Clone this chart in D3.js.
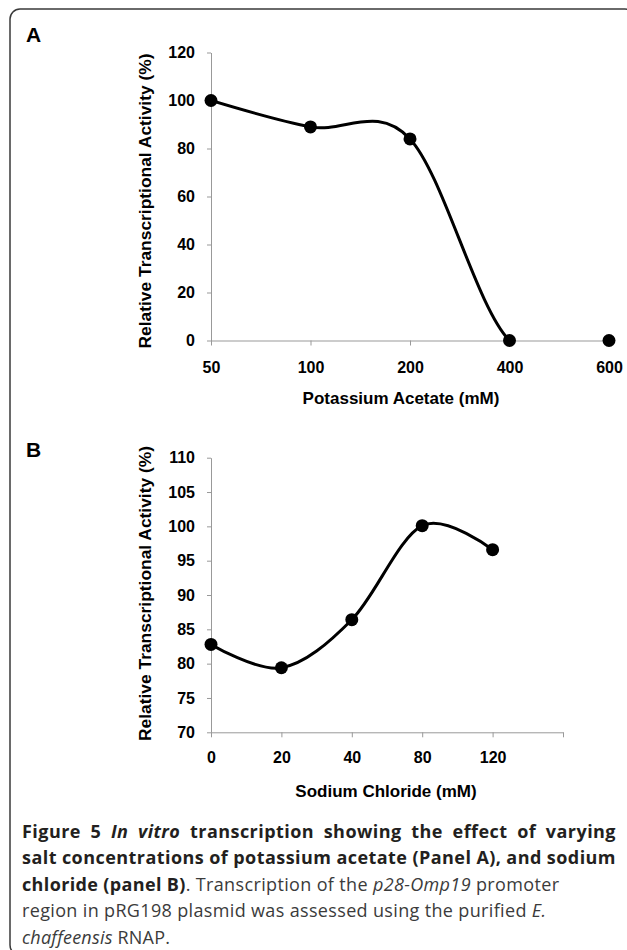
<!DOCTYPE html>
<html lang="en">
<head>
  <meta charset="UTF-8">
  <title>Figure 5 - salt concentration</title>
  <script src="https://cdn.jsdelivr.net/npm/d3@7"></script>
</head>
<body style="margin:0; background-color:#fff;">
<script>
  // panel A: potassium acetate
  const acetateConc = ["50", "100", "200", "400", "600"];
  const acetateActivity = [100, 89, 84, 0, 0];
  const acetateTicks = [0, 20, 40, 60, 80, 100, 120];

  // panel B: sodium chloride
  const chlorideConc = ["0", "20", "40", "80", "120"];
  const chlorideActivity = [82.8, 79.4, 86.4, 100.1, 96.6];
  const chlorideTicks = [70, 75, 80, 85, 90, 95, 100, 105, 110];

  const width = 627;
  const height = 950;
  const axisFont = "'Liberation Sans', Arial, sans-serif";
  const captionFont = "'Open Sans', sans-serif";

  const svg = d3.select("body")
          .append("svg")
          .attr("width", width)
          .attr("height", height)
          .style("display", "block");

  // rounded frame round the whole figure
  svg.append("rect")
          .attr("x", 10)
          .attr("y", 9)
          .attr("width", 625)
          .attr("height", 946)
          .attr("rx", 10)
          .attr("fill", "none")
          .attr("stroke", "#3a3a3a")
          .attr("stroke-width", 1.5);

  const drawPanel = (opts) => {
    const {id, letter, letterY, cats, values, ticks, xRange, yRange, yDomain, xTitle, xTitleX, xTitleY, yTitleY, padX} = opts;
    const x = d3.scalePoint().domain(cats).range(xRange);
    const y = d3.scaleLinear().domain(yDomain).range(yRange);

    // the smoothed line is clipped to the plot area, like the spreadsheet does
    svg.append("clipPath")
            .attr("id", `clip-${id}`)
            .append("rect")
            .attr("x", xRange[0])
            .attr("y", yRange[1])
            .attr("width", xRange[1] - xRange[0] + 10)
            .attr("height", yRange[0] - yRange[1]);

    svg.append("text")
            .attr("x", 26)
            .attr("y", letterY)
            .style("font-family", axisFont)
            .style("font-weight", "bold")
            .style("font-size", "21px")
            .text(letter);

    const xAxis = svg.append("g")
            .attr("transform", `translate(0, ${yRange[0]})`)
            .call(d3.axisBottom(x).tickSize(5).tickSizeOuter(0).tickPadding(padX)
                    .tickFormat(d => d === "end" ? "" : d));

    const yAxis = svg.append("g")
            .attr("transform", `translate(${xRange[0]}, 0)`)
            .call(d3.axisLeft(y).tickValues(ticks).tickSize(4).tickSizeOuter(0).tickPadding(12));

    [xAxis, yAxis].forEach(g => {
      g.select(".domain").attr("stroke", "#999");
      g.selectAll(".tick line").attr("stroke", "#999");
      g.selectAll(".tick text")
              .attr("fill", "#000")
              .style("font-family", axisFont)
              .style("font-weight", "bold")
              .style("font-size", "16px");
    });

    svg.append("text")
            .attr("x", xTitleX)
            .attr("y", xTitleY)
            .attr("text-anchor", "middle")
            .style("font-family", axisFont)
            .style("font-weight", "bold")
            .style("font-size", "17px")
            .text(xTitle);

    svg.append("text")
            .attr("transform", `translate(151, ${yTitleY}) rotate(-90)`)
            .attr("text-anchor", "middle")
            .style("font-family", axisFont)
            .style("font-weight", "bold")
            .style("font-size", "17.4px")
            .text("Relative Transcriptional Activity (%)");

    const pts = values.map((v, i) => [x(cats[i]), y(v)]);

    svg.append("path")
            .datum(pts)
            .attr("clip-path", `url(#clip-${id})`)
            .attr("fill", "none")
            .attr("stroke", "#000")
            .attr("stroke-width", 3)
            .attr("d", d3.line().curve(d3.curveCardinal.tension(0)));

    svg.append("g")
            .selectAll("circle")
            .data(pts)
            .enter()
            .append("circle")
            .attr("cx", d => d[0])
            .attr("cy", d => d[1])
            .attr("r", 6.5)
            .attr("fill", "#000");
  };

  drawPanel({
    id: "a", letter: "A", letterY: 42,
    cats: acetateConc, values: acetateActivity, ticks: acetateTicks,
    xRange: [211, 609], yRange: [340.5, 52.5], yDomain: [0, 120],
    xTitle: "Potassium Acetate (mM)", xTitleX: 401, xTitleY: 404, yTitleY: 201, padX: 16
  });

  drawPanel({
    id: "b", letter: "B", letterY: 457,
    cats: [...chlorideConc, "end"], values: chlorideActivity, ticks: chlorideTicks,
    xRange: [211, 563], yRange: [732.3, 457.7], yDomain: [70, 110],
    xTitle: "Sodium Chloride (mM)", xTitleX: 386, xTitleY: 797, yTitleY: 593.5, padX: 14
  });

  // caption, one entry per printed line with the width it fills
  const caption = [
    {w: 594, justify: true, parts: [["Figure 5 ", "b"], ["In vitro", "bi"], [" transcription showing the effect of varying", "b"]]},
    {w: 594, justify: true, parts: [["salt concentrations of potassium acetate (Panel A), and sodium", "b"]]},
    {w: 537, parts: [["chloride (panel B)", "b"], [". Transcription of the ", "r"], ["p28-Omp19", "i"], [" promoter", "r"]]},
    {w: 524, parts: [["region in pRG198 plasmid was assessed using the purified ", "r"], ["E.", "i"]]},
    {w: 148, parts: [["chaffeensis", "i"], [" RNAP.", "r"]]}
  ];

  caption.forEach((line, i) => {
    const t = svg.append("text")
            .attr("x", 22)
            .attr("y", 837.5 + i * 26.6)
            .style("font-family", captionFont)
            .style("font-size", "18px");
    line.parts.forEach(([s, k]) => {
      t.append("tspan")
              .attr("fill", k.includes("b") ? "#231f20" : "#3b3b3b")
              .style("font-weight", k.includes("b") ? "bold" : "normal")
              .style("font-style", k.includes("i") ? "italic" : "normal")
              .text(s);
    });
    const str = line.parts.map(p => p[0]).join("");
    if (line.justify) {
      // a little tracking first, the rest goes into the word gaps
      t.style("letter-spacing", "0.45px");
      const natural = t.node().getComputedTextLength();
      const gaps = str.split(" ").length - 1;
      t.style("word-spacing", `${(line.w - natural) / gaps}px`);
    } else {
      const natural = t.node().getComputedTextLength();
      t.style("letter-spacing", `${(line.w - natural) / (str.length - 1)}px`);
    }
  });
</script>
</body>
</html>
